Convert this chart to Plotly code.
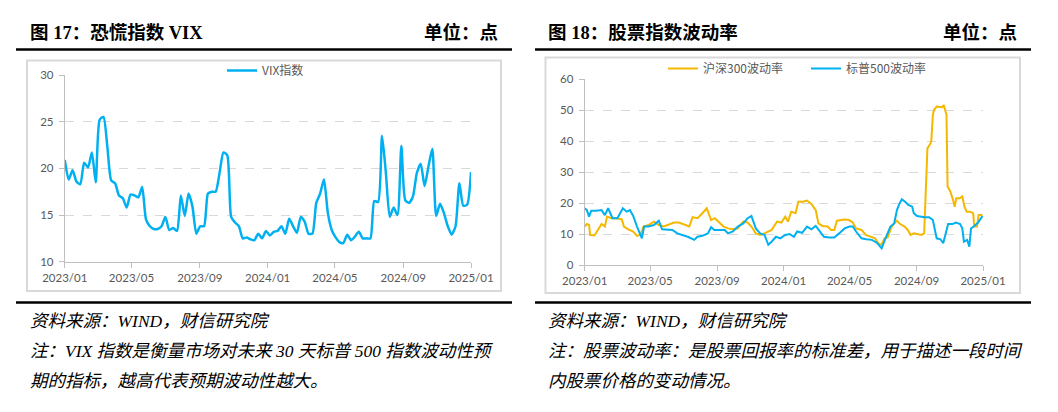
import pandas as pd
import plotly.graph_objects as go

W, H = 1058, 412

# ---------------------------------------------------------------------------
# 数据
# ---------------------------------------------------------------------------

# 图17 VIX 指数（周度，2023/01 - 2025/01）
vix_values = [
    20.9, 18.8, 19.8, 18.6, 18.3, 20.6, 20.1, 21.7, 18.5, 25.2,
    25.5, 22.3, 18.7, 18.4, 17.1, 16.8, 15.8, 17.2, 17.1, 16.9,
    18.0, 14.5, 13.8, 13.5, 13.5, 13.8, 14.8, 13.4, 13.6, 13.3,
    17.1, 14.9, 17.3, 15.9, 13.0, 13.8, 13.8, 17.3, 17.5, 17.5,
    19.5, 21.7, 21.4, 14.8, 14.2, 13.8, 12.5, 12.6, 12.4, 12.3,
    13.0, 12.5, 13.3, 12.8, 13.2, 13.3, 13.8, 13.0, 14.6, 13.8,
    13.1, 14.8, 14.3, 13.0, 13.0, 16.3, 17.3, 18.8, 15.2, 13.4,
    12.6, 12.1, 12.0, 12.9, 12.3, 12.7, 13.2, 12.5, 12.5, 12.5,
    16.5, 16.4, 23.5, 19.5, 14.8, 15.8, 15.0, 22.4, 16.6, 16.3,
    17.0, 19.5, 20.5, 18.1, 20.2, 22.1, 14.9, 16.2, 15.2, 13.8,
    12.9, 13.8, 18.4, 16.0, 16.1, 19.6,
]
vix_dates = pd.date_range("2023-01-01", "2025-01-01", periods=len(vix_values))

# 图18 沪深300波动率
hs300_dates = [
    "2023-01-01", "2023-01-05", "2023-01-09", "2023-01-11", "2023-01-19",
    "2023-01-25", "2023-02-01", "2023-02-07", "2023-02-11", "2023-02-19",
    "2023-02-28", "2023-03-10", "2023-03-14", "2023-03-22", "2023-03-31",
    "2023-04-07", "2023-04-13", "2023-04-19", "2023-04-28", "2023-05-08",
    "2023-05-17", "2023-05-26", "2023-06-04", "2023-06-14", "2023-06-23",
    "2023-07-02", "2023-07-12", "2023-07-18", "2023-07-27", "2023-08-05",
    "2023-08-13", "2023-08-21", "2023-08-28", "2023-09-05", "2023-09-13",
    "2023-09-21", "2023-09-30", "2023-10-09", "2023-10-19", "2023-10-27",
    "2023-11-03", "2023-11-11", "2023-11-19", "2023-11-27", "2023-12-04",
    "2023-12-10", "2023-12-20", "2023-12-28", "2024-01-04", "2024-01-09",
    "2024-01-15", "2024-01-23", "2024-01-28", "2024-02-05", "2024-02-13",
    "2024-02-21", "2024-02-29", "2024-03-05", "2024-03-12", "2024-03-22",
    "2024-03-28", "2024-04-03", "2024-04-08", "2024-04-16", "2024-04-22",
    "2024-04-30", "2024-05-07", "2024-05-13", "2024-05-23", "2024-05-31",
    "2024-06-08", "2024-06-17", "2024-06-23", "2024-06-29", "2024-07-04",
    "2024-07-10", "2024-07-16", "2024-07-21", "2024-07-27", "2024-08-02",
    "2024-08-10", "2024-08-16", "2024-08-21", "2024-08-27", "2024-09-02",
    "2024-09-10", "2024-09-15", "2024-09-18", "2024-09-21", "2024-09-26",
    "2024-09-28", "2024-10-01", "2024-10-03", "2024-10-08", "2024-10-14",
    "2024-10-18", "2024-10-21", "2024-10-26", "2024-10-28", "2024-11-02",
    "2024-11-07", "2024-11-10", "2024-11-13", "2024-11-19", "2024-11-24",
    "2024-11-28", "2024-12-02", "2024-12-08", "2024-12-14", "2024-12-16",
    "2024-12-21", "2024-12-24", "2024-12-31",
]
hs300_vol = [
    12.5, 13.3, 13.0, 9.8, 9.6, 11.4, 13.3, 12.5, 15.7, 15.2,
    15.2, 14.8, 12.5, 11.6, 10.9, 9.5, 9.8, 12.5, 13.0, 14.1,
    13.0, 12.5, 13.0, 13.8, 13.8, 13.3, 12.5, 15.5, 15.2, 16.8,
    18.4, 14.6, 15.2, 13.8, 12.5, 11.9, 11.6, 11.9, 14.1, 13.8,
    12.5, 10.3, 9.8, 10.3, 10.9, 11.4, 14.1, 13.8, 15.7, 14.1,
    17.3, 16.8, 20.5, 20.5, 20.9, 19.8, 17.8, 13.5, 12.7, 12.5,
    11.4, 11.4, 14.4, 14.6, 14.8, 14.6, 13.8, 11.9, 11.4, 9.8,
    9.2, 8.7, 7.1, 6.6, 8.7, 9.0, 11.9, 13.3, 14.4, 13.3,
    12.5, 11.4, 9.8, 10.3, 10.1, 9.8, 10.3, 25.4, 37.7, 39.1,
    39.9, 48.5, 50.1, 51.2, 51.2, 51.0, 51.7, 48.5, 25.4, 23.8,
    21.1, 18.9, 21.6, 21.6, 22.2, 18.9, 17.3, 17.3, 16.8, 12.5,
    12.5, 16.2, 16.2,
]

# 图18 标普500波动率
sp500_dates = [
    "2023-01-01", "2023-01-05", "2023-01-09", "2023-01-13", "2023-01-22",
    "2023-02-01", "2023-02-07", "2023-02-13", "2023-02-21", "2023-03-02",
    "2023-03-12", "2023-03-19", "2023-03-25", "2023-03-31", "2023-04-07",
    "2023-04-13", "2023-04-16", "2023-04-20", "2023-04-28", "2023-05-08",
    "2023-05-17", "2023-05-23", "2023-06-01", "2023-06-11", "2023-06-20",
    "2023-06-29", "2023-07-09", "2023-07-21", "2023-07-27", "2023-08-05",
    "2023-08-15", "2023-08-21", "2023-08-27", "2023-09-05", "2023-09-15",
    "2023-09-21", "2023-09-30", "2023-10-09", "2023-10-19", "2023-10-27",
    "2023-11-03", "2023-11-11", "2023-11-19", "2023-11-27", "2023-12-04",
    "2023-12-10", "2023-12-18", "2023-12-26", "2024-01-04", "2024-01-12",
    "2024-01-20", "2024-01-26", "2024-02-04", "2024-02-13", "2024-02-21",
    "2024-02-29", "2024-03-06", "2024-03-15", "2024-03-25", "2024-04-03",
    "2024-04-12", "2024-04-22", "2024-05-01", "2024-05-07", "2024-05-13",
    "2024-05-23", "2024-06-01", "2024-06-11", "2024-06-20", "2024-06-29",
    "2024-07-05", "2024-07-15", "2024-07-22", "2024-07-27", "2024-08-01",
    "2024-08-05", "2024-08-11", "2024-08-17", "2024-08-24", "2024-08-27",
    "2024-09-02", "2024-09-08", "2024-09-16", "2024-09-24", "2024-10-01",
    "2024-10-08", "2024-10-15", "2024-10-20", "2024-10-24", "2024-10-29",
    "2024-11-06", "2024-11-12", "2024-11-20", "2024-11-24", "2024-11-27",
    "2024-12-03", "2024-12-07", "2024-12-10", "2024-12-16", "2024-12-23",
    "2024-12-31",
]
sp500_vol = [
    18.4, 17.8, 15.7, 17.6, 17.6, 17.8, 16.2, 18.4, 15.2, 15.2,
    18.4, 17.3, 17.8, 15.9, 12.5, 10.3, 8.7, 12.5, 12.5, 13.0,
    14.4, 11.6, 11.4, 11.4, 10.3, 9.8, 9.2, 8.2, 9.2, 9.5,
    10.3, 12.3, 11.4, 11.4, 11.4, 10.3, 10.9, 12.5, 13.5, 15.2,
    15.9, 11.9, 10.3, 9.8, 6.6, 7.6, 9.2, 8.7, 9.8, 10.1,
    9.2, 10.9, 10.5, 12.5, 11.6, 12.7, 11.4, 9.2, 9.0, 9.0,
    10.3, 11.9, 12.5, 12.5, 10.9, 8.7, 8.4, 8.2, 7.3, 5.5,
    8.2, 12.5, 13.5, 17.8, 20.0, 21.3, 20.5, 19.5, 18.9, 16.8,
    15.9, 15.7, 15.5, 15.5, 14.6, 8.7, 8.4, 7.1, 9.8, 13.3,
    13.3, 13.8, 13.3, 11.9, 7.6, 8.2, 6.0, 11.9, 12.7, 13.8,
    15.9,
]

tick_dates = ["2023-01-01", "2023-05-01", "2023-09-01", "2024-01-01",
              "2024-05-01", "2024-09-01", "2025-01-01"]
tick_labels = ["2023/01", "2023/05", "2023/09", "2024/01",
               "2024/05", "2024/09", "2025/01"]

# ---------------------------------------------------------------------------
# 样式
# ---------------------------------------------------------------------------

BLUE = "#00B0F0"
GOLD = "#F5B800"
GREY_TXT = "#595959"
AXIS = "#BFBFBF"
GRID = "#D9D9D9"
TICK_FONT = dict(family="Lato, Noto Sans CJK SC", size=11.5, color=GREY_TXT)
TITLE_FONT = dict(family="Liberation Serif, Noto Sans CJK SC", size=18.5,
                  color="#000000", weight="bold")
NOTE_FONT = dict(family="Liberation Serif, Noto Sans CJK SC", size=17.5,
                 color="#000000", style="italic")


def fx(px):
    return px / W


def fy(px):
    return 1 - px / H


fig = go.Figure()

fig.add_trace(go.Scatter(
    x=vix_dates, y=vix_values, name="VIX指数", mode="lines",
    line=dict(color=BLUE, width=2.5, shape="spline", smoothing=0.6),
    xaxis="x", yaxis="y", legend="legend",
))
fig.add_trace(go.Scatter(
    x=hs300_dates, y=hs300_vol, name="沪深300波动率", mode="lines",
    line=dict(color=GOLD, width=2), xaxis="x2", yaxis="y2", legend="legend2",
))
fig.add_trace(go.Scatter(
    x=sp500_dates, y=sp500_vol, name="标普500波动率", mode="lines",
    line=dict(color=BLUE, width=2), xaxis="x2", yaxis="y2", legend="legend2",
))

xcommon = dict(
    type="date", range=["2023-01-01", "2025-01-01"],
    tickvals=tick_dates, ticktext=tick_labels,
    ticks="outside", ticklen=5, tickcolor=AXIS,
    showline=True, linecolor=AXIS, linewidth=1,
    showgrid=False, zeroline=False, tickfont=TICK_FONT,
)
ycommon = dict(
    ticks="outside", ticklen=5, tickcolor=AXIS,
    showline=True, linecolor=AXIS, linewidth=1,
    showgrid=True, gridcolor=GRID, griddash="dash", gridwidth=1,
    zeroline=False, tickfont=TICK_FONT, ticklabelstandoff=3,
)

# 面板框、分隔线
shapes = []
for x0, x1 in [(16, 512), (535, 1031)]:
    shapes.append(dict(type="line", xref="paper", yref="paper",
                       x0=fx(x0), x1=fx(x1), y0=fy(49.5), y1=fy(49.5),
                       line=dict(color="#000000", width=2.5)))
    shapes.append(dict(type="line", xref="paper", yref="paper",
                       x0=fx(x0), x1=fx(x1), y0=fy(302.5), y1=fy(302.5),
                       line=dict(color="#000000", width=2.5)))
for x0, x1, y0, y1 in [(27, 501, 60.5, 291), (545.5, 1020, 57.5, 293)]:
    shapes.append(dict(type="rect", xref="paper", yref="paper",
                       x0=fx(x0), x1=fx(x1), y0=fy(y0), y1=fy(y1),
                       line=dict(color="#D9D9D9", width=2)))

annotations = []
for text, x, anchor in [("图 17：恐慌指数 VIX", 28, "left"),
                        ("单位：点", 500, "right"),
                        ("图 18：股票指数波动率", 546, "left"),
                        ("单位：点", 1019, "right")]:
    annotations.append(dict(text=text, x=fx(x), y=fy(32.5), xref="paper",
                            yref="paper", xanchor=anchor, yanchor="middle",
                            showarrow=False, font=TITLE_FONT))

notes = [
    ("资料来源：WIND，财信研究院", 28, 321),
    ("注：VIX 指数是衡量市场对未来 30 天标普 500 指数波动性预", 28, 351),
    ("期的指标，越高代表预期波动性越大。", 28, 381),
    ("资料来源：WIND，财信研究院", 546, 321),
    ("注：股票波动率：是股票回报率的标准差，用于描述一段时间", 546, 351),
    ("内股票价格的变动情况。", 546, 381),
]
for text, x, y in notes:
    annotations.append(dict(text=text, x=fx(x), y=fy(y), xref="paper",
                            yref="paper", xanchor="left", yanchor="middle",
                            showarrow=False, font=NOTE_FONT))

legend_font = dict(family="Noto Sans CJK SC, Lato", size=12, color=GREY_TXT)

fig.update_layout(
    width=W, height=H,
    margin=dict(l=0, r=0, t=0, b=0, autoexpand=False),
    paper_bgcolor="#FFFFFF", plot_bgcolor="#FFFFFF",
    xaxis=dict(domain=[fx(64.8), fx(471)], anchor="y", **xcommon),
    yaxis=dict(domain=[fy(261.7), fy(75)], anchor="x", range=[10, 30],
               dtick=5, tick0=10, **ycommon),
    xaxis2=dict(domain=[fx(584.7), fx(983)], anchor="y2", **xcommon),
    yaxis2=dict(domain=[fy(265.3), fy(79.3)], anchor="x2", range=[0, 60],
                dtick=10, tick0=0, **ycommon),
    legend=dict(x=fx(222), y=fy(70.5), xanchor="left", yanchor="middle",
                orientation="h", font=legend_font, bgcolor="rgba(0,0,0,0)"),
    legend2=dict(x=fx(663), y=fy(68.5), xanchor="left", yanchor="middle",
                 orientation="h", font=legend_font, bgcolor="rgba(0,0,0,0)",
                 entrywidth=98, entrywidthmode="pixels"),
    showlegend=True,
    shapes=shapes,
    annotations=annotations,
)

fig.write_html("out.html", config={"displayModeBar": False},
               post_script="document.body.style.margin='0';")
